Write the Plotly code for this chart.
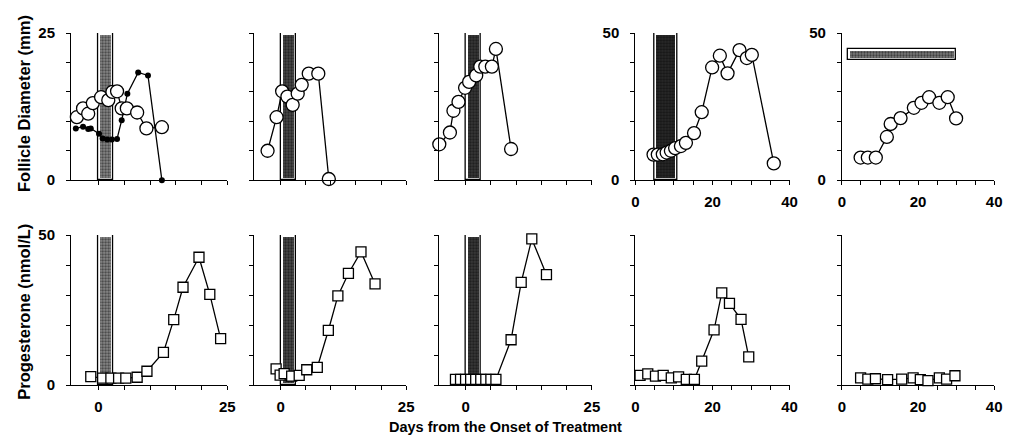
import plotly.graph_objects as go

# ---------------- data ----------------
# Follicle diameter (mm), top row
fd1_open_day = [-4.2, -3.0, -2.0, -1.1, 0.5, 1.9, 2.7, 3.6, 4.5, 5.5, 7.5, 9.3, 12.3]
fd1_open_mm = [10.7, 12.2, 11.3, 13.1, 14.1, 13.6, 15.0, 15.1, 12.2, 12.2, 11.5, 8.8, 9.0]
fd1_dot_day = [-4.4, -3.0, -2.0, -1.5, 0.1, 0.8, 1.7, 2.6, 3.6, 4.5, 5.6, 7.7, 9.6, 12.3]
fd1_dot_mm = [8.8, 9.1, 8.7, 8.8, 7.9, 7.1, 6.9, 6.9, 7.0, 10.2, 14.7, 18.3, 17.8, 0.0]

fd2_day = [-2.6, -0.8, 0.3, 1.35, 2.4, 3.4, 4.2, 5.6, 7.5, 9.6]
fd2_mm = [5.0, 10.7, 15.1, 14.2, 12.8, 14.7, 16.2, 18.1, 18.1, 0.2]

fd3_day = [-5.2, -3.1, -2.4, -1.4, -0.1, 0.7, 2.1, 2.9, 3.9, 5.2, 6.0, 9.0]
fd3_mm = [6.1, 8.1, 11.8, 13.3, 15.7, 16.7, 17.8, 19.3, 19.3, 19.3, 22.3, 5.3]

fd4_day = [4.7, 5.8, 7.1, 8.1, 9.2, 10.3, 11.8, 13.1, 15.2, 17.2, 19.9, 21.9, 23.9, 27.0, 28.9, 30.2, 35.9]
fd4_mm = [8.7, 8.7, 8.8, 9.4, 10.0, 10.9, 11.6, 12.7, 16.0, 23.1, 38.3, 42.3, 36.3, 44.2, 41.5, 42.6, 5.7]

fd5_day = [4.9, 6.8, 8.9, 11.8, 12.8, 15.4, 18.9, 20.9, 22.9, 25.6, 27.8, 30.0]
fd5_mm = [7.7, 7.7, 7.7, 14.7, 19.1, 21.1, 24.6, 26.3, 28.2, 26.3, 28.2, 21.0]

# Progesterone (nmol/L), bottom row
pg1_day = [-1.5, 0.8, 2.4, 3.9, 5.3, 7.5, 9.4, 12.6, 14.6, 16.4, 19.5, 21.6, 23.7]
pg1_val = [2.8, 2.3, 2.3, 2.3, 2.3, 2.6, 4.6, 10.9, 21.8, 32.6, 42.6, 30.2, 15.5]

pg2_day = [-0.9, -0.1, 0.7, 2.2, 3.7, 5.2, 7.3, 9.5, 11.4, 13.5, 16.0, 18.8]
pg2_val = [5.4, 3.3, 3.8, 3.0, 3.2, 5.1, 5.9, 18.2, 29.7, 37.2, 44.4, 33.7]

pg3_day = [-2, -1, 0, 1, 2, 3, 4, 5, 6, 9.0, 11.0, 13.1, 16.0]
pg3_val = [1.9, 1.9, 1.9, 1.9, 1.9, 1.9, 1.9, 1.9, 1.9, 15.1, 34.2, 48.7, 36.8]

pg4_day = [1.2, 3.2, 5.2, 7.2, 9.3, 11.2, 13.2, 15.3, 17.2, 20.4, 22.4, 24.4, 27.4, 29.4]
pg4_val = [3.2, 3.7, 3.0, 3.2, 2.4, 2.7, 1.9, 1.9, 8.0, 18.4, 30.7, 27.2, 21.9, 9.4]

pg5_day = [4.9, 6.8, 8.8, 12.0, 15.7, 18.7, 20.6, 22.6, 25.6, 27.5, 29.7]
pg5_val = [2.4, 2.0, 2.1, 1.8, 2.0, 2.4, 1.8, 1.5, 2.4, 2.0, 3.1]

# Treatment periods: (panel, start day, end day, low value, high value)
treat_panel = [1, 6, 2, 7, 3, 8, 4]
treat_start = [0, 0, 0, 0, 0, 0, 5]
treat_end = [2.8, 2.8, 3.0, 3.0, 3.0, 3.0, 11]
treat_low = [0, 0, 0, 0, 0, 0, 0]
treat_high = [25, 50, 25, 50, 25, 50, 50]
# horizontal treatment band in panel 5 (days, mm)
band_start, band_end = 1.6, 30.0
band_low, band_high = 40.7, 44.4

# ---------------- layout geometry ----------------
W, H = 1014, 445
col_px = [(68, 226), (253, 407), (440, 595), (639, 795), (848, 1002)]
col_range = [[-5.3, 25], [-5.3, 25], [-5.3, 25], [0, 40], [0, 40]]
row_px = [(25, 178), (235, 391)]
row_ymax = [[25, 25, 25, 50, 50], [50, 50, 50, 50, 50]]

FAMILY = "Liberation Sans, Arial, sans-serif"
TICKFONT = dict(family=FAMILY, size=15, color="black", weight="bold")
YTITLEFONT = dict(family=FAMILY, size=16.5, color="black", weight="bold")
XTITLEFONT = dict(family=FAMILY, size=14.5, color="black", weight="bold")

fig = go.Figure()


def ax_id(panel):
    return "" if panel == 1 else str(panel)


def px_per_x(c):
    a, b = col_px[c]
    r = col_range[c]
    return (b - a) / (r[1] - r[0])


def px_per_y(r, c):
    a, b = row_px[r]
    return (b - a) / row_ymax[r][c]


bar_fill = {1: "#8a8a8a", 6: "#8a8a8a", 2: "#4a4a4a", 7: "#4a4a4a",
            3: "#3a3a3a", 8: "#3a3a3a", 4: "#2a2a2a"}

# treatment bars (drawn first so markers sit on top)
for p, x0, x1, y0, y1 in zip(treat_panel, treat_start, treat_end, treat_low, treat_high):
    r, c = (p - 1) // 5, (p - 1) % 5
    xa, ya = "x" + ax_id(p), "y" + ax_id(p)
    fig.add_trace(go.Bar(x=[(x0 + x1) / 2], y=[y1 - y0], base=[y0], width=[x1 - x0],
                         marker=dict(color="white", line=dict(color="black", width=1.3)),
                         xaxis=xa, yaxis=ya, showlegend=False, hoverinfo="skip"))
    ix = 2.2 / px_per_x(c)
    iy = 2.2 / px_per_y(r, c)
    fig.add_trace(go.Bar(x=[(x0 + x1) / 2], y=[y1 - y0 - 2 * iy], base=[y0 + iy],
                         width=[x1 - x0 - 2 * ix],
                         marker=dict(color=bar_fill[p], line=dict(width=0),
                                     pattern=dict(shape=".", fgcolor="black",
                                                  bgcolor=bar_fill[p], size=3, solidity=0.45)),
                         xaxis=xa, yaxis=ya, showlegend=False, hoverinfo="skip"))

# horizontal band in panel 5
ix = 2.0 / px_per_x(4)
iy = 2.0 / px_per_y(0, 4)
fig.add_trace(go.Bar(y=[(band_low + band_high) / 2], x=[band_end - band_start], base=[band_start],
                     width=[band_high - band_low], orientation="h",
                     marker=dict(color="white", line=dict(color="black", width=1.3)),
                     xaxis="x5", yaxis="y5", showlegend=False, hoverinfo="skip"))
fig.add_trace(go.Bar(y=[(band_low + band_high) / 2], x=[band_end - band_start - 2 * ix],
                     base=[band_start + ix], width=[band_high - band_low - 2 * iy], orientation="h",
                     marker=dict(color="#7a7a7a", line=dict(width=0),
                                 pattern=dict(shape=".", fgcolor="black", bgcolor="#7a7a7a",
                                              size=3, solidity=0.45)),
                     xaxis="x5", yaxis="y5", showlegend=False, hoverinfo="skip"))

LINE = dict(color="black", width=1.3)
circle = dict(symbol="circle", size=13, color="white", line=dict(color="black", width=1.3))
square = dict(symbol="square", size=10, color="white", line=dict(color="black", width=1.3))
dot = dict(symbol="circle", size=6, color="black")

series = [
    (1, fd1_dot_day, fd1_dot_mm, dot),
    (1, fd1_open_day, fd1_open_mm, circle),
    (2, fd2_day, fd2_mm, circle),
    (3, fd3_day, fd3_mm, circle),
    (4, fd4_day, fd4_mm, circle),
    (5, fd5_day, fd5_mm, circle),
    (6, pg1_day, pg1_val, square),
    (7, pg2_day, pg2_val, square),
    (8, pg3_day, pg3_val, square),
    (9, pg4_day, pg4_val, square),
    (10, pg5_day, pg5_val, square),
]
for p, xs, ys, mk in series:
    fig.add_trace(go.Scatter(x=xs, y=ys, mode="lines+markers", line=LINE, marker=mk,
                             cliponaxis=False, xaxis="x" + ax_id(p), yaxis="y" + ax_id(p),
                             showlegend=False, hoverinfo="skip"))

# axes
layout = {}
for p in range(1, 11):
    r, c = (p - 1) // 5, (p - 1) % 5
    a, b = col_px[c]
    t, btm = row_px[r]
    ymax = row_ymax[r][c]
    if c < 3:
        xt = [0, 5, 10, 15, 20, 25]
        xlab = ["0", "", "", "", "", "25"]
    else:
        xt = [0, 5, 10, 15, 20, 25, 30, 35, 40]
        xlab = ["0", "", "", "", "20", "", "", "", "40"]
    show_x = (r == 1) or (c >= 3)
    ystep = 5 if ymax == 25 else 10
    yt = list(range(0, ymax + 1, ystep))
    show_y = (c == 0) or (r == 0 and c >= 3)
    ylab = [str(v) if v in (0, ymax) else "" for v in yt]
    layout["xaxis" + ax_id(p)] = dict(
        domain=[a / W, b / W], range=col_range[c], anchor="y" + ax_id(p),
        showgrid=False, zeroline=False, showline=True, linecolor="black", linewidth=1.3,
        ticks="outside", ticklen=4, tickwidth=1.2, tickcolor="black",
        tickvals=xt, ticktext=xlab if show_x else [""] * len(xt),
        tickfont=TICKFONT, ticklabelstandoff=4, fixedrange=True)
    layout["yaxis" + ax_id(p)] = dict(
        domain=[1 - btm / H, 1 - t / H], range=[0, ymax], anchor="x" + ax_id(p),
        showgrid=False, zeroline=False, showline=True, linecolor="black", linewidth=1.3,
        ticks="outside", ticklen=4, tickwidth=1.2, tickcolor="black",
        tickvals=yt, ticktext=ylab if show_y else [""] * len(yt),
        tickfont=TICKFONT, ticklabelstandoff=8, fixedrange=True)

fig.update_layout(
    width=W, height=H, margin=dict(l=0, r=0, t=0, b=0),
    paper_bgcolor="white", plot_bgcolor="white", barmode="overlay", bargap=0,
    showlegend=False, **layout,
    annotations=[
        dict(text="Follicle Diameter (mm)", x=20 / W, y=1 - 98 / H, xref="paper", yref="paper",
             textangle=-90, showarrow=False, font=YTITLEFONT, xanchor="center", yanchor="middle"),
        dict(text="Progesterone (nmol/L)", x=20 / W, y=1 - 315 / H, xref="paper", yref="paper",
             textangle=-90, showarrow=False, font=YTITLEFONT, xanchor="center", yanchor="middle"),
        dict(text="Days from the Onset of Treatment", x=507 / W, y=1 - 435 / H,
             xref="paper", yref="paper", showarrow=False, font=XTITLEFONT,
             xanchor="center", yanchor="middle"),
    ],
)

fig.write_html("out.html")
